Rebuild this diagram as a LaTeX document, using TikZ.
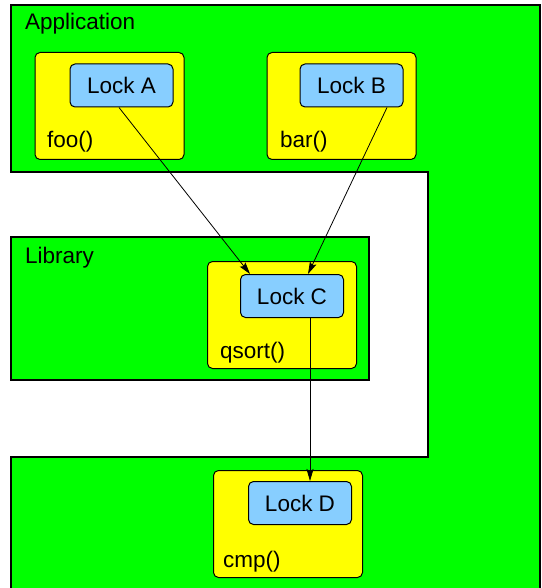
\documentclass[tikz,border=0pt]{standalone}
\usepackage{fontspec}
\setmainfont{Liberation Sans}
\usetikzlibrary{arrows.meta}
\definecolor{layergreen}{RGB}{0,255,0}
\definecolor{funcyellow}{RGB}{255,255,0}
\definecolor{lockblue}{RGB}{135,206,255}

\begin{document}
\begin{tikzpicture}[x=1pt, y=-1pt,
  layer/.style={draw=black, fill=layergreen, line width=1.2pt},
  fn/.style={rectangle, draw=black, fill=funcyellow, rounded corners=5pt,
             line width=1pt, minimum width=149pt, minimum height=107pt, inner sep=0pt},
  lock/.style={rectangle, draw=black, fill=lockblue, rounded corners=5pt,
               line width=1pt, minimum width=103pt, minimum height=43pt, inner sep=0pt,
               font=\fontsize{22.5}{27}\selectfont},
  lbl/.style={anchor=base west, inner sep=0pt, font=\fontsize{22.5}{27}\selectfont},
  arr/.style={-{Stealth[length=12pt,width=7pt,inset=2pt]}, line width=0.8pt}
]
  \clip (0,0) rectangle (541,588);
  \fill[white] (0,0) rectangle (541,588);

  % layers
  \draw[layer] (11,5) -- (540,5) -- (540,600) -- (11,600) -- (11,457)
               -- (428,457) -- (428,172) -- (11,172) -- cycle;
  \draw[layer] (11,237) rectangle (369,380);
  \node[lbl] (app) at (25,30)  {Application};
  \node[lbl] (lib) at (25,263) {Library};

  % functions
  \node[fn] (foo)   at (109.5,106) {};
  \node[fn] (bar)   at (341.5,106) {};
  \node[fn] (qsort) at (282,315)   {};
  \node[fn] (cmp)   at (288,524)   {};
  \node[lbl] (fooname)   at (47,148)  {foo()};
  \node[lbl] (barname)   at (280,148) {bar()};
  \node[lbl] (qsortname) at (220,358) {qsort()};
  \node[lbl] (cmpname)   at (223,567) {cmp()};

  % locks
  \node[lock] (lockA) at (121.5,85.5) {Lock A};
  \node[lock] (lockB) at (351.5,85.5) {Lock B};
  \node[lock] (lockC) at (292,296)    {Lock C};
  \node[lock] (lockD) at (300,503)    {Lock D};

  \draw[arr] ([xshift=-2.5pt]lockA.south) -- ([xshift=-42pt]lockC.north);
  \draw[arr] ([xshift=35.5pt]lockB.south) -- ([xshift=16pt]lockC.north);
  \draw[arr] ([xshift=18pt]lockC.south)   -- ([xshift=10pt]lockD.north);
\end{tikzpicture}
\end{document}
